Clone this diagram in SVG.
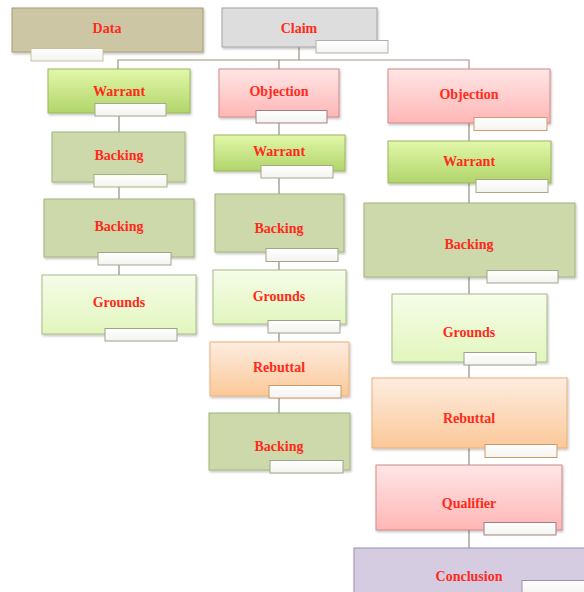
<svg xmlns="http://www.w3.org/2000/svg" width="584" height="592" viewBox="0 0 584 592">
<defs>
<linearGradient id="gWarrant" x1="0" y1="0" x2="0" y2="1"><stop offset="0" stop-color="#e2f8aa"/><stop offset="1" stop-color="#b1d46a"/></linearGradient>
<linearGradient id="gObj" x1="0" y1="0" x2="0" y2="1"><stop offset="0" stop-color="#ffe6e6"/><stop offset="1" stop-color="#ffb6b6"/></linearGradient>
<linearGradient id="gGround" x1="0" y1="0" x2="0" y2="1"><stop offset="0" stop-color="#f6fce8"/><stop offset="1" stop-color="#e1f6bd"/></linearGradient>
<linearGradient id="gReb" x1="0" y1="0" x2="0" y2="1"><stop offset="0" stop-color="#fdede0"/><stop offset="1" stop-color="#fbc898"/></linearGradient>
<linearGradient id="gLbl" x1="0" y1="0" x2="0" y2="1"><stop offset="0" stop-color="#ffffff"/><stop offset="1" stop-color="#f3f3f0"/></linearGradient>
<filter id="sh" x="-10%" y="-10%" width="120%" height="130%"><feDropShadow dx="1" dy="1.5" stdDeviation="1" flood-color="#000" flood-opacity="0.25"/></filter>
</defs>
<style>
.n{filter:url(#sh);stroke-width:1}
.t{font-family:"Liberation Serif",serif;font-weight:bold;font-size:14px;fill:#ff2a1a;text-anchor:middle;dominant-baseline:central}
.l{fill:url(#gLbl);stroke-width:1}
.data{fill:#cdc6a5;stroke:#a59e78}
.claim{fill:#dddddd;stroke:#a3a3a3}
.war{fill:url(#gWarrant);stroke:#9bb661}
.obj{fill:url(#gObj);stroke:#cf8a8a}
.back{fill:#cdd9aa;stroke:#a3b37c}
.gr{fill:url(#gGround);stroke:#aab98a}
.reb{fill:url(#gReb);stroke:#edb07a}
.con{fill:#d5cce1;stroke:#9d90b2}
.c{fill:none;stroke-width:1.2}
</style>
<g id="connectors">
<path class="c" stroke="#9a9478" d="M299 47V60H118V69M279 60V69"/>
<path class="c" stroke="#b39090" d="M299 60H469V69"/>
<path class="c" stroke="#8f8f7f" d="M119 113V132M119 182V199M119 257V275"/>
<path class="c" stroke="#8f8f7f" d="M279 117V135M279 171V194M279 252V270M279 324V342M279 396V413"/>
<path class="c" stroke="#8f8f7f" d="M469 123V141M469 183V203M469 277V294M469 362V378M469 448V465M469 530V548"/>
</g>
<g id="data"><rect class="n data" x="12" y="8" width="191" height="44"/><rect class="l" stroke="#c9c2a2" x="31" y="48.5" width="72" height="12.5"/><text class="t" x="107" y="28">Data</text></g>
<g id="claim"><rect class="n claim" x="222" y="8" width="155" height="39"/><rect class="l" stroke="#b0b0b0" x="316" y="40.5" width="72" height="12.5"/><text class="t" x="299" y="28">Claim</text></g>

<g id="warrant1"><rect class="n war" x="48" y="69" width="142" height="44"/><rect class="l" stroke="#a7a88a" x="95" y="103.5" width="71" height="12.5"/><text class="t" x="119" y="91">Warrant</text></g>
<g id="backing1a"><rect class="n back" x="52" y="132" width="133" height="50"/><rect class="l" stroke="#a3b37c" x="94" y="174.5" width="73" height="12.5"/><text class="t" x="119" y="155">Backing</text></g>
<g id="backing1b"><rect class="n back" x="44" y="199" width="150" height="58"/><rect class="l" stroke="#a3a38c" x="98" y="252.5" width="73" height="12.5"/><text class="t" x="119" y="226">Backing</text></g>
<g id="grounds1"><rect class="n gr" x="42" y="275" width="154" height="59"/><rect class="l" stroke="#a0a090" x="105" y="328.5" width="72" height="12.5"/><text class="t" x="119" y="302">Grounds</text></g>

<g id="objection2"><rect class="n obj" x="219" y="69" width="120" height="48"/><rect class="l" stroke="#a08080" x="256" y="110.5" width="71" height="12.5"/><text class="t" x="279" y="91">Objection</text></g>
<g id="warrant2"><rect class="n war" x="214" y="135" width="131" height="36"/><rect class="l" stroke="#a7a88a" x="261" y="165.5" width="72" height="12.5"/><text class="t" x="279" y="151">Warrant</text></g>
<g id="backing2a"><rect class="n back" x="215" y="194" width="129" height="58"/><rect class="l" stroke="#a3a38c" x="266" y="248.5" width="72" height="13"/><text class="t" x="279" y="228">Backing</text></g>
<g id="grounds2"><rect class="n gr" x="213" y="270" width="133" height="54"/><rect class="l" stroke="#a0a090" x="268" y="320.5" width="72" height="12.5"/><text class="t" x="279" y="296">Grounds</text></g>
<g id="rebuttal2"><rect class="n reb" x="210" y="342" width="139" height="54"/><rect class="l" stroke="#c89a6a" x="269" y="385.5" width="72" height="12.5"/><text class="t" x="279" y="367">Rebuttal</text></g>
<g id="backing2b"><rect class="n back" x="209" y="413" width="141" height="57"/><rect class="l" stroke="#a3a38c" x="270" y="460.5" width="73" height="12.5"/><text class="t" x="279" y="446">Backing</text></g>

<g id="objection3"><rect class="n obj" x="388" y="69" width="162" height="54"/><rect class="l" stroke="#d09a70" x="474" y="117.5" width="73" height="13"/><text class="t" x="469" y="94">Objection</text></g>
<g id="warrant3"><rect class="n war" x="388" y="141" width="163" height="42"/><rect class="l" stroke="#a7a88a" x="476" y="179.5" width="72" height="13"/><text class="t" x="469" y="161">Warrant</text></g>
<g id="backing3"><rect class="n back" x="364" y="203" width="211" height="74"/><rect class="l" stroke="#a3a38c" x="487" y="270.5" width="71" height="12.5"/><text class="t" x="469" y="244">Backing</text></g>
<g id="grounds3"><rect class="n gr" x="392" y="294" width="155" height="68"/><rect class="l" stroke="#a0a090" x="464" y="352.5" width="72" height="12.5"/><text class="t" x="469" y="332">Grounds</text></g>
<g id="rebuttal3"><rect class="n reb" x="372" y="378" width="195" height="70"/><rect class="l" stroke="#c89a6a" x="485" y="444.5" width="72" height="13"/><text class="t" x="469" y="418">Rebuttal</text></g>
<g id="qualifier3"><rect class="n obj" x="376" y="465" width="186" height="65"/><rect class="l" stroke="#a08080" x="484" y="522.5" width="72" height="12.5"/><text class="t" x="469" y="503">Qualifier</text></g>
<g id="conclusion"><rect class="n con" x="354" y="548" width="232" height="50"/><rect class="l" stroke="#9d90b2" x="522" y="580.5" width="70" height="14"/><text class="t" x="469" y="576">Conclusion</text></g>
</svg>
